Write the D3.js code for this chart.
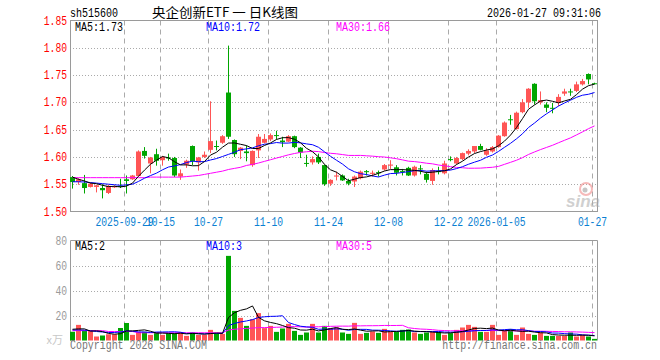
<!DOCTYPE html>
<html>
<head>
<meta charset="utf-8">
<script src="https://cdn.jsdelivr.net/npm/d3@7"></script>
<style>
    body { margin: 0; background: #fff; }
    svg { display: block; }
</style>
</head>
<body>
<div id="wrapper"></div>
<script>
const STOCK_CODE = "sh515600";
const TITLE = "央企创新ETF 一 日K线图";
const TIMESTAMP = "2026-01-27 09:31:06";

const dates = [
    "2025-09-16", "2025-09-17", "2025-09-18", "2025-09-19", "2025-09-22", "2025-09-23", "2025-09-24", "2025-09-25", "2025-09-26", "2025-09-29", "2025-09-30",
    "2025-10-09", "2025-10-10", "2025-10-13", "2025-10-14", "2025-10-15", "2025-10-16", "2025-10-17", "2025-10-20", "2025-10-21", "2025-10-22", "2025-10-23", "2025-10-24", "2025-10-27", "2025-10-28", "2025-10-29", "2025-10-30", "2025-10-31",
    "2025-11-03", "2025-11-04", "2025-11-05", "2025-11-06", "2025-11-07", "2025-11-10", "2025-11-11", "2025-11-12", "2025-11-13", "2025-11-14", "2025-11-17", "2025-11-18", "2025-11-19", "2025-11-20", "2025-11-21", "2025-11-24", "2025-11-25", "2025-11-26", "2025-11-27", "2025-11-28",
    "2025-12-01", "2025-12-02", "2025-12-03", "2025-12-04", "2025-12-05", "2025-12-08", "2025-12-09", "2025-12-10", "2025-12-11", "2025-12-12", "2025-12-15", "2025-12-16", "2025-12-17", "2025-12-18", "2025-12-19", "2025-12-22", "2025-12-23", "2025-12-24", "2025-12-25", "2025-12-26", "2025-12-29", "2025-12-30", "2025-12-31",
    "2026-01-05", "2026-01-06", "2026-01-07", "2026-01-08", "2026-01-09", "2026-01-12", "2026-01-13", "2026-01-14", "2026-01-15", "2026-01-16", "2026-01-19", "2026-01-20", "2026-01-21", "2026-01-22", "2026-01-23", "2026-01-26", "2026-01-27"
];

const opens = [
    1.563, 1.554, 1.552, 1.545, 1.545, 1.543, 1.534, 1.545, 1.547, 1.559, 1.559,
    1.565, 1.611, 1.588, 1.605, 1.594, 1.599, 1.598, 1.564, 1.586, 1.620, 1.590, 1.600, 1.613, 1.620, 1.626, 1.718, 1.631,
    1.611, 1.610, 1.585, 1.612, 1.626, 1.632, 1.640, 1.630, 1.628, 1.638, 1.617, 1.589, 1.590, 1.600, 1.585, 1.551, 1.564, 1.566, 1.556, 1.555,
    1.561, 1.574, 1.569, 1.572, 1.577, 1.584, 1.581, 1.574, 1.580, 1.566, 1.579, 1.569, 1.556, 1.574, 1.570, 1.596, 1.588, 1.596, 1.606, 1.610, 1.620, 1.604, 1.610,
    1.618, 1.638, 1.669, 1.651, 1.682, 1.700, 1.734, 1.700, 1.696, 1.690, 1.699, 1.716, 1.720, 1.721, 1.733, 1.752, 1.735
];

const closes = [
    1.554, 1.559, 1.543, 1.551, 1.548, 1.539, 1.547, 1.546, 1.545, 1.556, 1.566,
    1.610, 1.602, 1.599, 1.593, 1.600, 1.598, 1.566, 1.570, 1.593, 1.592, 1.599, 1.604, 1.629, 1.619, 1.638, 1.637, 1.605,
    1.617, 1.607, 1.611, 1.637, 1.633, 1.640, 1.639, 1.627, 1.638, 1.618, 1.608, 1.588, 1.596, 1.590, 1.550, 1.558, 1.566, 1.557, 1.551, 1.564,
    1.573, 1.572, 1.571, 1.570, 1.585, 1.586, 1.571, 1.572, 1.566, 1.582, 1.578, 1.558, 1.576, 1.573, 1.588, 1.595, 1.598, 1.607, 1.611, 1.620, 1.613, 1.612, 1.618,
    1.639, 1.663, 1.668, 1.681, 1.700, 1.725, 1.702, 1.704, 1.690, 1.689, 1.710, 1.720, 1.719, 1.733, 1.739, 1.742, 1.734
];

const highs = [
    1.565, 1.561, 1.567, 1.553, 1.549, 1.550, 1.549, 1.548, 1.560, 1.566, 1.567,
    1.612, 1.618, 1.600, 1.615, 1.602, 1.606, 1.600, 1.577, 1.595, 1.621, 1.600, 1.610, 1.702, 1.630, 1.640, 1.804, 1.632,
    1.618, 1.621, 1.612, 1.642, 1.642, 1.643, 1.648, 1.637, 1.640, 1.639, 1.618, 1.604, 1.601, 1.606, 1.586, 1.559, 1.573, 1.568, 1.560, 1.566,
    1.575, 1.576, 1.575, 1.575, 1.587, 1.594, 1.585, 1.578, 1.582, 1.584, 1.585, 1.573, 1.579, 1.582, 1.593, 1.601, 1.600, 1.608, 1.614, 1.620, 1.624, 1.616, 1.620,
    1.640, 1.665, 1.677, 1.683, 1.706, 1.726, 1.735, 1.720, 1.700, 1.699, 1.715, 1.725, 1.725, 1.738, 1.743, 1.753, 1.736
];

const lows = [
    1.542, 1.549, 1.533, 1.544, 1.535, 1.524, 1.532, 1.543, 1.543, 1.533, 1.558,
    1.564, 1.597, 1.570, 1.584, 1.584, 1.593, 1.563, 1.558, 1.580, 1.585, 1.575, 1.598, 1.607, 1.612, 1.624, 1.633, 1.600,
    1.596, 1.592, 1.582, 1.598, 1.625, 1.629, 1.632, 1.618, 1.627, 1.616, 1.598, 1.582, 1.586, 1.587, 1.547, 1.547, 1.557, 1.556, 1.548, 1.545,
    1.559, 1.566, 1.564, 1.564, 1.575, 1.578, 1.566, 1.566, 1.565, 1.564, 1.568, 1.553, 1.549, 1.568, 1.568, 1.592, 1.586, 1.594, 1.603, 1.607, 1.612, 1.602, 1.608,
    1.617, 1.637, 1.659, 1.650, 1.680, 1.690, 1.696, 1.696, 1.682, 1.680, 1.693, 1.712, 1.712, 1.719, 1.731, 1.733, 1.733
];

// volume, in 万
const volumes = [
    7, 12.5, 8, 8, 3.2, 4, 5, 5, 10, 14, 4.5,
    7, 7, 4.5, 6.6, 4.5, 5.8, 5.9, 6.4, 3.7, 6.4, 4.5, 4.5, 8.5, 5.9, 5.3, 67.7, 23.7,
    18.1, 11.7, 17, 21.9, 9.9, 11.7, 6.9, 9.6, 13.3, 7.7, 4.5, 6.4, 13.3, 6.4, 11.7, 9.9, 10.4, 6.4, 5.3, 14.1,
    5.3, 6.1, 7.2, 6.1, 9.3, 6.9, 6.9, 8.5, 8.8, 6.4, 5.3, 6.4, 6.9, 6.9, 4.5, 5.9, 8.5, 10.4, 12.5, 10.9, 6.9, 6.9, 12.5,
    4.5, 8, 9, 4.5, 10.4, 5.3, 4.5, 6.4, 3.7, 3.7, 3.7, 3.7, 6.4, 3.2, 4.5, 3.2, 1.3
];

// moving averages before enough history is on screen
const priceMa5Head = [1.563, 1.559, 1.556, 1.552];
const priceMa10Head = [1.5545, 1.5545, 1.554, 1.553, 1.552, 1.551, 1.550, 1.549, 1.548];
const priceMa30Head = [
    1.562, 1.562, 1.562, 1.562, 1.562, 1.562, 1.562, 1.562, 1.562, 1.562,
    1.562, 1.562, 1.562, 1.563, 1.563, 1.563, 1.563, 1.563, 1.563, 1.564,
    1.565, 1.566, 1.568, 1.570, 1.572, 1.574, 1.577, 1.579, 1.581
];
const volMa5Head = [9, 9.3, 9.3, 7.5];
const volMa10Head = [8.5, 8.5, 8.3, 7.8, 7.2, 6.8, 6.4, 6.4, 6.8];
const volMa30Head = [
    7.9, 7.9, 7.9, 7.9, 7.9, 7.9, 7.2, 7.2, 7.2, 7.2,
    7.2, 6.2, 6.2, 6.2, 6.2, 6.2, 6.2, 6.2, 6.2, 6.2,
    6.2, 6.2, 6.2, 6.2, 6.2, 6.2, 8.4, 9.0, 9.4
];

const priceMaLabels = ["MA5:1.73", "MA10:1.72", "MA30:1.66"];
const volMaLabels = ["MA5:2", "MA10:3", "MA30:5"];

const tickDates = ["2025-09-29", "2025-10-15", "2025-10-27", "2025-11-10", "2025-11-24", "2025-12-08", "2025-12-22", "2026-01-05", "2026-01-27"];
const tickLabels = ["2025-09-29", "10-15", "10-27", "11-10", "11-24", "12-08", "12-22", "2026-01-05", "01-27"];
const priceTicks = [1.50, 1.55, 1.60, 1.65, 1.70, 1.75, 1.80, 1.85];
const volumeTicks = [20, 40, 60, 80];

const UP_COLOR = "#ff5555";
const DOWN_COLOR = "#00a600";
const MA_COLORS = ["#000000", "#0000ff", "#ff00ff"];
const GRID_COLOR = "#aaaaaa";
const BORDER_COLOR = "#9a9a9a";
const PRICE_LABEL_COLOR = "#ff0000";
const DATE_LABEL_COLOR = "#0a7fd2";
const VOL_LABEL_COLOR = "#9a9a9a";
const MONO = "'Liberation Mono', 'DejaVu Sans Mono', monospace";
const CHAR_W = 6;

function fitText(sel, perChar) {
    sel.each(function () {
        const t = d3.select(this);
        t.attr("textLength", t.text().length * perChar)
            .attr("lengthAdjust", "spacingAndGlyphs");
    });
}

function movingAverage(values, n, head) {
    return values.map((v, i) => i < head.length
        ? head[i]
        : d3.mean(values.slice(i - n + 1, i + 1)));
}

function drawChart() {
    const width = 660;
    const height = 360;

    const dims = {
        left: 70,
        right: 598,
        priceTop: 20.5,
        priceBottom: 211.5,
        volTop: 240.5,
        volBottom: 340.5,
    };

    const candles = dates.map((d, i) => ({
        i: i,
        date: d,
        open: opens[i],
        close: closes[i],
        high: highs[i],
        low: lows[i],
        volume: volumes[i],
    }));

    const wrapper = d3.select("#wrapper")
        .append("svg")
        .attr("width", width)
        .attr("height", height);

    // x: every trading day takes 6px, candle drawn from its left edge
    const xScale = d3.scaleLinear()
        .domain([0, dates.length])
        .range([dims.left, dims.right]);
    const centerX = i => xScale(i) + 2.5;

    const yPrice = d3.scaleLinear()
        .domain([1.50, 1.85])
        .range([dims.priceBottom, dims.priceTop]);

    const yVol = d3.scaleLinear()
        .domain([0, 80])
        .range([dims.volBottom, dims.volTop]);

    const colorOf = d => d.close >= d.open ? UP_COLOR : DOWN_COLOR;

    // header texts
    wrapper.append("text")
        .attr("x", 70).attr("y", 17)
        .style("font-family", MONO).style("font-size", "12px")
        .text(STOCK_CODE)
        .call(fitText, CHAR_W);

    wrapper.append("text")
        .attr("x", 152).attr("y", 17)
        .attr("textLength", 146).attr("lengthAdjust", "spacingAndGlyphs")
        .style("font-family", "'Noto Sans CJK SC', sans-serif").style("font-size", "13px")
        .text(TITLE);

    wrapper.append("text")
        .attr("x", 601).attr("y", 17)
        .attr("text-anchor", "end")
        .style("font-family", MONO).style("font-size", "12px")
        .text(TIMESTAMP)
        .call(fitText, CHAR_W);

    // grids
    const grid = wrapper.append("g");
    const tickIdx = tickDates.map(t => dates.indexOf(t));

    grid.selectAll("line.ph")
        .data(priceTicks.filter(p => p > 1.5 && p < 1.85))
        .enter().append("line")
        .attr("x1", dims.left).attr("x2", dims.right)
        .attr("y1", d => Math.round(yPrice(d)) + 0.5)
        .attr("y2", d => Math.round(yPrice(d)) + 0.5)
        .attr("stroke", GRID_COLOR).attr("stroke-dasharray", "1,2");

    grid.selectAll("line.vh")
        .data(volumeTicks.filter(v => v < 80))
        .enter().append("line")
        .attr("x1", dims.left).attr("x2", dims.right)
        .attr("y1", d => Math.round(yVol(d)) + 0.5)
        .attr("y2", d => Math.round(yVol(d)) + 0.5)
        .attr("stroke", GRID_COLOR).attr("stroke-dasharray", "1,2");

    [[dims.priceTop, dims.priceBottom], [dims.volTop, dims.volBottom]].forEach(([y0, y1]) => {
        grid.append("g").selectAll("line")
            .data(tickIdx)
            .enter().append("line")
            .attr("x1", d => xScale(d) + 0.5).attr("x2", d => xScale(d) + 0.5)
            .attr("y1", y0).attr("y2", y1)
            .attr("stroke", GRID_COLOR).attr("stroke-dasharray", "5,4");
    });

    // borders
    wrapper.append("rect")
        .attr("x", dims.left + 0.5).attr("y", dims.priceTop)
        .attr("width", dims.right - dims.left - 1)
        .attr("height", dims.priceBottom - dims.priceTop)
        .attr("fill", "none").attr("stroke", BORDER_COLOR);

    wrapper.append("path")
        .attr("d", `M${dims.left + 0.5},${dims.volBottom}V${dims.volTop}H${dims.right - 0.5}V${dims.volBottom}`)
        .attr("fill", "none").attr("stroke", BORDER_COLOR);

    // sina watermark
    const logo = wrapper.append("g").attr("opacity", 0.55);
    logo.append("circle").attr("cx", 586).attr("cy", 189).attr("r", 6)
        .attr("fill", "none").attr("stroke", "#f08080").attr("stroke-width", 2);
    logo.append("circle").attr("cx", 585).attr("cy", 190).attr("r", 2.5).attr("fill", "#999");
    logo.append("text")
        .attr("x", 566).attr("y", 207)
        .style("font-family", "'Liberation Sans', sans-serif")
        .style("font-size", "17px").style("font-weight", "bold").style("font-style", "italic")
        .attr("fill", "#aaaaaa")
        .text("sina");

    // candles
    const candleGroup = wrapper.append("g");

    candleGroup.selectAll("line")
        .data(candles)
        .enter().append("line")
        .attr("x1", d => centerX(d.i)).attr("x2", d => centerX(d.i))
        .attr("y1", d => yPrice(d.high)).attr("y2", d => yPrice(d.low))
        .attr("stroke", colorOf);

    candleGroup.selectAll("rect")
        .data(candles)
        .enter().append("rect")
        .attr("x", d => xScale(d.i))
        .attr("width", 5)
        .attr("y", d => yPrice(Math.max(d.open, d.close)))
        .attr("height", d => Math.max(1, yPrice(Math.min(d.open, d.close)) - yPrice(Math.max(d.open, d.close))))
        .attr("fill", colorOf);

    // volume bars
    wrapper.append("g").selectAll("rect")
        .data(candles)
        .enter().append("rect")
        .attr("x", d => xScale(d.i))
        .attr("width", 5)
        .attr("y", d => yVol(d.volume))
        .attr("height", d => dims.volBottom - yVol(d.volume))
        .attr("fill", colorOf);

    // moving averages
    const priceMas = [
        movingAverage(closes, 5, priceMa5Head),
        movingAverage(closes, 10, priceMa10Head),
        movingAverage(closes, 30, priceMa30Head),
    ];
    const volMas = [
        movingAverage(volumes, 5, volMa5Head),
        movingAverage(volumes, 10, volMa10Head),
        movingAverage(volumes, 30, volMa30Head),
    ];

    const priceLine = d3.line().x((d, i) => centerX(i)).y(d => yPrice(d));
    const volLine = d3.line().x((d, i) => centerX(i)).y(d => yVol(d));

    [2, 1, 0].forEach(k => {
        wrapper.append("path")
            .attr("d", priceLine(priceMas[k]))
            .attr("fill", "none").attr("stroke", MA_COLORS[k]).attr("stroke-width", 1);
        wrapper.append("path")
            .attr("d", volLine(volMas[k]))
            .attr("fill", "none").attr("stroke", MA_COLORS[k]).attr("stroke-width", 1);
    });

    // MA legends
    const legendX = [75, 206, 336];
    wrapper.append("g").selectAll("text")
        .data(priceMaLabels)
        .enter().append("text")
        .attr("x", (d, i) => legendX[i]).attr("y", 31)
        .attr("fill", (d, i) => MA_COLORS[i])
        .style("font-family", MONO).style("font-size", "12px")
        .text(d => d)
        .call(fitText, CHAR_W);

    wrapper.append("g").selectAll("text")
        .data(volMaLabels)
        .enter().append("text")
        .attr("x", (d, i) => legendX[i]).attr("y", 250)
        .attr("fill", (d, i) => MA_COLORS[i])
        .style("font-family", MONO).style("font-size", "12px")
        .text(d => d)
        .call(fitText, CHAR_W);

    // axis labels
    wrapper.append("g").selectAll("text")
        .data(priceTicks)
        .enter().append("text")
        .attr("x", 67).attr("y", d => yPrice(d) + 4)
        .attr("text-anchor", "end")
        .attr("fill", PRICE_LABEL_COLOR)
        .style("font-family", MONO).style("font-size", "12px")
        .text(d => d.toFixed(2))
        .call(fitText, 5.8);

    wrapper.append("g").selectAll("text")
        .data(volumeTicks)
        .enter().append("text")
        .attr("x", 67).attr("y", d => yVol(d) + 4)
        .attr("text-anchor", "end")
        .attr("fill", VOL_LABEL_COLOR)
        .style("font-family", MONO).style("font-size", "12px")
        .text(d => d)
        .call(fitText, 5.8);

    wrapper.append("g").selectAll("text")
        .data(tickLabels)
        .enter().append("text")
        .attr("x", (d, i) => xScale(tickIdx[i]) + 0.5)
        .attr("y", 226)
        .attr("text-anchor", "middle")
        .attr("fill", DATE_LABEL_COLOR)
        .style("font-family", MONO).style("font-size", "12px")
        .text(d => d)
        .call(fitText, 5.8);

    wrapper.append("text")
        .attr("x", 63).attr("y", 344)
        .attr("text-anchor", "end")
        .attr("fill", "#c8c8c8")
        .style("font-family", "'Noto Sans CJK SC', sans-serif").style("font-size", "11px")
        .text("x万");

    // footer
    wrapper.append("text")
        .attr("x", 70).attr("y", 349)
        .attr("fill", "#777")
        .style("font-family", MONO).style("font-size", "12px")
        .text("Copyright 2026 SINA.COM")
        .call(fitText, 5.95);

    wrapper.append("text")
        .attr("x", 597).attr("y", 349)
        .attr("text-anchor", "end")
        .attr("fill", "#777")
        .style("font-family", MONO).style("font-size", "12px")
        .text("http://finance.sina.com.cn")
        .call(fitText, 5.95);
}

drawChart();
</script>
</body>
</html>
